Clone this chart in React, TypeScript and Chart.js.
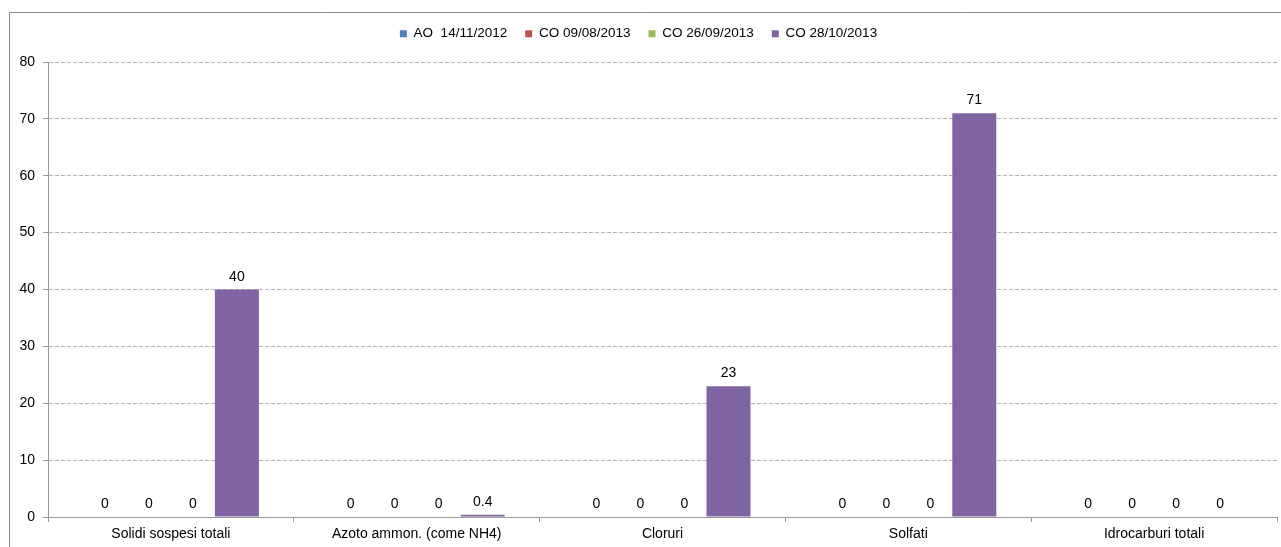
import React, { useEffect, useRef } from "react";
import { Chart, registerables } from "chart.js";

Chart.register(...registerables);

const categories = [
  "Solidi sospesi totali",
  "Azoto ammon. (come NH4)",
  "Cloruri",
  "Solfati",
  "Idrocarburi totali",
];
const seriesNames = ["AO  14/11/2012", "CO 09/08/2013", "CO 26/09/2013", "CO 28/10/2013"];
const seriesColors = ["#4F81BD", "#C0504D", "#9BBB59", "#8064A2"];
const ao141112 = [0, 0, 0, 0, 0];
const co090813 = [0, 0, 0, 0, 0];
const co260913 = [0, 0, 0, 0, 0];
const co281013 = [40, 0.4, 23, 71, 0];
const yTicks = [0, 10, 20, 30, 40, 50, 60, 70, 80];

const FONT = "'Liberation Sans', Arial, sans-serif";
const FS = 14;
const LEGEND_FS = 13.5;

export default function App() {
  const ref = useRef<HTMLCanvasElement | null>(null);
  useEffect(() => {
    const canvas = ref.current;
    if (!canvas) return;
    const seriesData = [ao141112, co090813, co260913, co281013];

    const frame = {
      id: "frame",
      beforeDraw(chart: any) {
        const ctx = chart.ctx;
        ctx.save();
        ctx.fillStyle = "#ffffff";
        ctx.fillRect(0, 0, chart.width, chart.height);
        ctx.strokeStyle = "#8a8a8a";
        ctx.lineWidth = 1;
        ctx.beginPath();
        ctx.moveTo(9.5, chart.height);
        ctx.lineTo(9.5, 12.5);
        ctx.lineTo(chart.width, 12.5);
        ctx.stroke();
        ctx.restore();
      },
    };

    const legendHeight = {
      id: "legendHeight",
      beforeInit(chart: any) {
        const legend = chart.legend;
        if (!legend) return;
        const fit = legend.fit;
        legend.fit = function () {
          fit.call(legend);
          legend.height = 53;
        };
      },
    };

    const valueLabels = {
      id: "valueLabels",
      afterDatasetsDraw(chart: any) {
        const ctx = chart.ctx;
        ctx.save();
        ctx.font = `${FS}px ${FONT}`;
        ctx.fillStyle = "#000";
        ctx.textAlign = "center";
        ctx.textBaseline = "alphabetic";
        chart.data.datasets.forEach((ds: any, i: number) => {
          const meta = chart.getDatasetMeta(i);
          meta.data.forEach((bar: any, j: number) => {
            const v = ds.data[j];
            ctx.fillText(String(v), bar.x, bar.y - 9);
          });
        });
        ctx.restore();
      },
    };

    const chart = new Chart(canvas, {
      type: "bar",
      data: {
        labels: categories,
        datasets: seriesNames.map((name, i) => ({
          label: name,
          data: seriesData[i],
          backgroundColor: seriesColors[i],
          borderWidth: 0,
          categoryPercentage: 0.716,
          barPercentage: 1,
        })),
      },
      options: {
        responsive: false,
        animation: false,
        layout: { padding: { left: 0, right: 4, top: 9, bottom: 0 } },
        plugins: {
          legend: {
            position: "top",
            labels: {
              boxWidth: 7,
              boxHeight: 7,
              padding: 18,
              color: "#000",
              font: { family: FONT, size: LEGEND_FS },
            },
          },
          tooltip: { enabled: false },
        },
        scales: {
          x: {
            grid: {
              display: true,
              drawOnChartArea: false,
              drawTicks: true,
              tickLength: 5,
              color: "#999",
              offset: true,
            },
            border: { display: true, color: "#999" },
            ticks: {
              color: "#000",
              padding: 4,
              maxRotation: 0,
              autoSkip: false,
              font: { family: FONT, size: FS },
            },
            afterFit(scale: any) {
              scale.height = 30;
            },
          },
          y: {
            min: 0,
            max: 80,
            afterBuildTicks(scale: any) {
              scale.ticks = yTicks.map((v) => ({ value: v }));
            },
            grid: {
              color: "#b5b5b5",
              tickColor: "#999",
              tickLength: 5,
              tickBorderDash: [],
            },
            border: { display: true, color: "#999", dash: [4, 2] },
            ticks: {
              color: "#000",
              padding: 8,
              font: { family: FONT, size: FS },
            },
            afterFit(scale: any) {
              scale.width = 48;
            },
          },
        },
      },
      plugins: [frame, legendHeight, valueLabels],
    } as any);
    return () => chart.destroy();
  }, []);

  return (
    <div style={{ position: "absolute", left: 0, top: 0, width: 1281, height: 547, overflow: "hidden", background: "#fff" }}>
      <canvas ref={ref} width={1281} height={547} style={{ display: "block" }} />
    </div>
  );
}
